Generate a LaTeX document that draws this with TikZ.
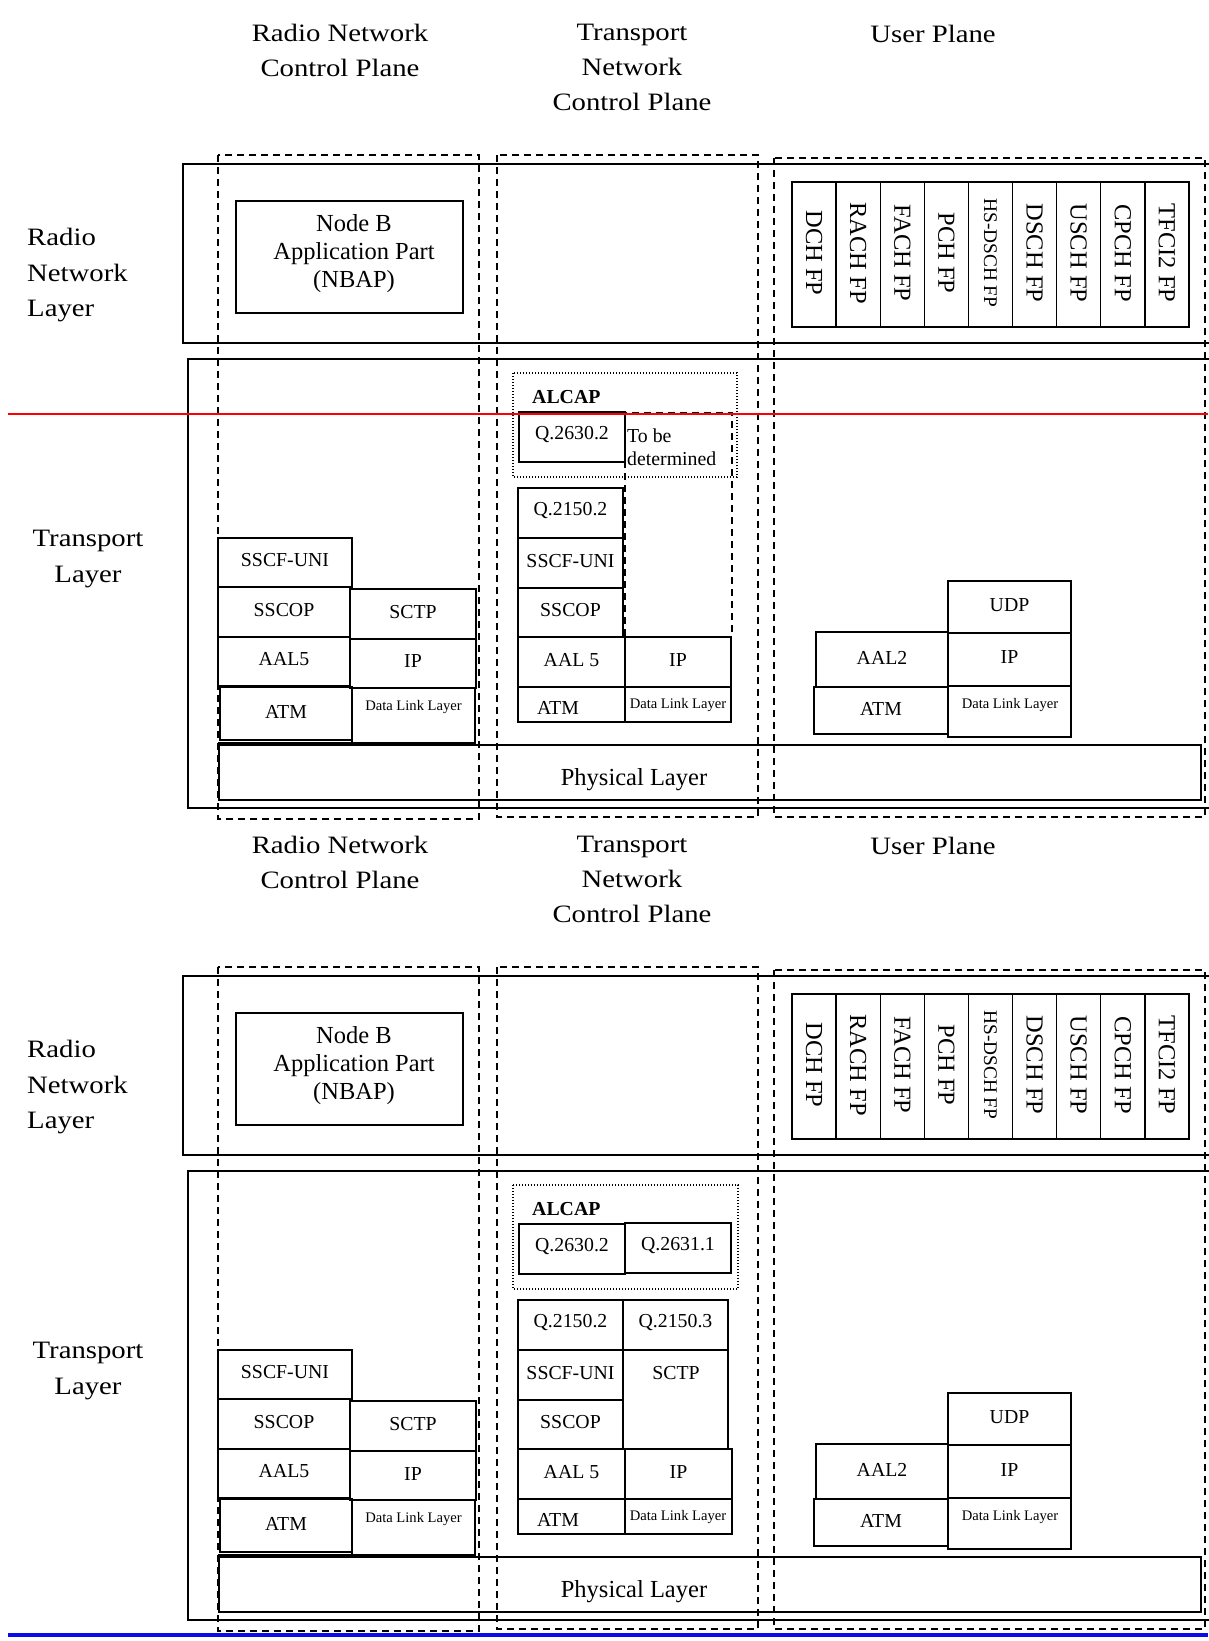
\documentclass[tikz,border=0pt]{standalone}
\usepackage{fontspec}
\setmainfont{Liberation Serif}
\newfontfamily\widefont[FakeStretch=1.15]{Liberation Serif}

\begin{document}
\begin{tikzpicture}[
  x=1pt, y=-1pt,
  every node/.style={inner sep=0pt},
  headtext/.style={font=\widefont\fontsize{25}{35}\selectfont, align=center},
  sidetext/.style={font=\widefont\fontsize{25}{35.5}\selectfont},
  bodytext/.style={font=\fontsize{24.5}{28}\selectfont, align=center},
  celltext/.style={font=\fontsize{19.8}{22.5}\selectfont},
  linktext/.style={font=\fontsize{14.6}{17}\selectfont},
  layerbox/.style={line width=2.4pt},
  cellbox/.style={line width=1.4pt},
  planeline/.style={line width=1.8pt, dash pattern=on 7pt off 5pt},
  alcapline/.style={line width=1.3pt, dash pattern=on 1.4pt off 1.6pt},
]

\definecolor{markred}{RGB}{255,0,0}
\definecolor{markblue}{RGB}{10,10,235}

\useasboundingbox (0,0) rectangle (1208,1641);

% ============================================================
% COMMON PART (drawn twice, second copy shifted down)
% ============================================================
\def\fpW{44.1}   % width of one FP column
\foreach \dy/\tg in {0/a,812/b}{
  % plane headers
  \node[headtext, anchor=north] (rncp\tg) at (340,{\dy+24}) {Radio Network\\Control Plane};
  \node[headtext, anchor=north] (tncp\tg) at (632,{\dy+24}) {Transport\\Network\\Control Plane};
  \node[headtext, anchor=north] (uplane\tg) at (933,{\dy+25}) {User Plane};
  % layer labels
  \node[sidetext, anchor=north west, align=left] (rnl\tg) at (27,{\dy+228}) {Radio\\Network\\Layer};
  \node[sidetext, anchor=north, align=center] (tl\tg) at (88,{\dy+530}) {Transport\\Layer};

  % layer frames (open to the right page edge)
  \draw[layerbox] (183,{\dy+164}) rectangle (1214,{\dy+343});
  \draw[layerbox] (188,{\dy+359}) rectangle (1214,{\dy+808});

  % plane columns
  \draw[planeline] (218,{\dy+155}) rectangle (479,{\dy+819});
  \draw[planeline] (497,{\dy+155}) rectangle (758,{\dy+817});
  \draw[planeline] (774,{\dy+158}) rectangle (1205,{\dy+817});

  % NBAP
  \draw[cellbox] (236,{\dy+201}) rectangle (463,{\dy+313});
  \node[bodytext, anchor=north] (nbap\tg) at (354,{\dy+214}) {Node B\\Application Part\\(NBAP)};

  % frame protocols
  \foreach \lbl/\fs [count=\i from 0] in {DCH FP/24.5, RACH FP/24.5, FACH FP/24.5,
      PCH FP/24.5, HS-DSCH FP/19.3, DSCH FP/24.5, USCH FP/24.5, CPCH FP/24.5, TFCI2 FP/24.5}{
    \draw[cellbox] ({792+\fpW*\i},{\dy+182}) rectangle +(\fpW,145);
    \node[rotate=-90, font=\fontsize{\fs}{28}\selectfont]
      (fp\tg\i) at ({792+\fpW*\i+\fpW/2},{\dy+253}) {\lbl};
  }

  % physical layer
  \draw[cellbox] (219,{\dy+745}) rectangle (1201,{\dy+800});
  \node[bodytext] (phy\tg) at (634,{\dy+780}) {Physical Layer};

  % radio network control plane stack
  \foreach \xa/\ya/\xb/\yb/\lbl [count=\i] in {
      218/538/352/587/SSCF-UNI,
      218/587/350/637/SSCOP,
      350/589/476/639/SCTP,
      218/637/350/686/AAL5,
      350/639/476/688/IP,
      220/687/352/740/ATM}{
    \draw[cellbox] (\xa,{\dy+\ya}) rectangle (\xb,{\dy+\yb});
    \node[celltext] (rn\tg\i) at ({(\xa+\xb)/2},{\dy+(\ya+\yb)/2-2}) {\lbl};
  }
  \draw[cellbox] (218,{\dy+743}) -- (352,{\dy+743});
  \draw[cellbox] (352,{\dy+688}) rectangle (475,{\dy+743});
  \node[linktext] (rndll\tg) at (413.5,{\dy+707}) {Data Link Layer};

  % user plane stack
  \foreach \xa/\ya/\xb/\yb/\lbl [count=\i] in {
      948/581/1071/633/UDP,
      948/633/1071/686/IP,
      816/632/948/687/AAL2,
      814/687/948/734/ATM}{
    \draw[cellbox] (\xa,{\dy+\ya}) rectangle (\xb,{\dy+\yb});
    \node[celltext] (up\tg\i) at ({(\xa+\xb)/2},{\dy+(\ya+\yb)/2-2}) {\lbl};
  }
  \draw[cellbox] (948,{\dy+686}) rectangle (1071,{\dy+737});
  \node[linktext] (updll\tg) at (1010,{\dy+705}) {Data Link Layer};
}

% ============================================================
% TRANSPORT NETWORK CONTROL PLANE, FIRST COPY
% ============================================================
\draw[alcapline] (513,373) rectangle (737,477);
\node[celltext, font=\fontsize{19.8}{22.5}\selectfont\bfseries, anchor=west] (alcapa) at (532,397) {ALCAP};
\draw[planeline, line width=1.6pt] (625,413) rectangle (732,637);
\node[celltext, anchor=north west, align=left] (tbd) at (627,429) {To be\\determined};
\foreach \xa/\ya/\xb/\yb/\lbl [count=\i] in {
    519/412/625/462/Q.2630.2,
    518/488/623/538/Q.2150.2,
    518/538/623/588/SSCF-UNI,
    518/588/623/637/SSCOP,
    518/637/625/687/AAL 5,
    625/637/731/687/IP}{
  \draw[cellbox] (\xa,\ya) rectangle (\xb,\yb);
  \node[celltext] (tna\i) at ({(\xa+\xb)/2},{(\ya+\yb)/2-2}) {\lbl};
}
\draw[cellbox] (518,687) rectangle (625,722);
\node[celltext] (tnaatm) at (558,708) {ATM};
\draw[cellbox] (625,687) rectangle (731,722);
\node[linktext] (tnadll) at (678,705) {Data Link Layer};

% ============================================================
% TRANSPORT NETWORK CONTROL PLANE, SECOND COPY
% ============================================================
\draw[alcapline] (513,1185) rectangle (738,1289);
\node[celltext, font=\fontsize{19.8}{22.5}\selectfont\bfseries, anchor=west] (alcapb) at (532,1209) {ALCAP};
\foreach \xa/\ya/\xb/\yb/\lbl [count=\i] in {
    519/1224/625/1274/Q.2630.2,
    625/1223/731/1273/Q.2631.1,
    518/1300/623/1350/Q.2150.2,
    623/1300/728/1350/Q.2150.3,
    518/1350/623/1400/SSCF-UNI,
    518/1400/623/1449/SSCOP,
    518/1449/625/1499/AAL 5,
    625/1449/732/1499/IP}{
  \draw[cellbox] (\xa,\ya) rectangle (\xb,\yb);
  \node[celltext] (tnb\i) at ({(\xa+\xb)/2},{(\ya+\yb)/2-2}) {\lbl};
}
\draw[cellbox] (623,1350) rectangle (728,1449);
\node[celltext] (tnbsctp) at (676,1373) {SCTP};
\draw[cellbox] (518,1499) rectangle (625,1534);
\node[celltext] (tnbatm) at (558,1520) {ATM};
\draw[cellbox] (625,1499) rectangle (732,1534);
\node[linktext] (tnbdll) at (678,1517) {Data Link Layer};

% ============================================================
% MARK LINES
% ============================================================
\draw[markred, line width=2.5pt] (8,414) -- (1208,414);
\draw[markblue, line width=4pt] (8,1635) -- (1208,1635);

\end{tikzpicture}
\end{document}
